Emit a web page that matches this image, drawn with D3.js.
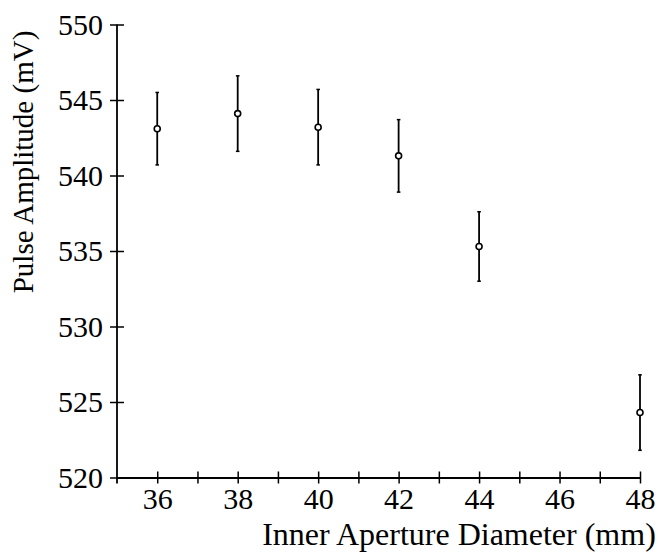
<!DOCTYPE html>
<html><head><meta charset="utf-8">
<script src="https://cdn.jsdelivr.net/npm/d3@7"></script>
<style>body{margin:0;background:#fff}svg{display:block}</style>
</head><body>
<script>
const diameters = [36, 38, 40, 42, 44, 48];
const amplitudes = [543.1, 544.1, 543.2, 541.3, 535.3, 524.3];
const errors = [2.4, 2.5, 2.5, 2.4, 2.3, 2.5];
const xTicks = [36, 37, 38, 39, 40, 41, 42, 43, 44, 45, 46, 47, 48];
const xTickLabels = [36, 38, 40, 42, 44, 46, 48];
const yTicks = [520, 525, 530, 535, 540, 545, 550];

const W = 664, H = 560;
const svg = d3.select("body").append("svg").attr("width", W).attr("height", H);
const x = d3.scaleLinear().domain([35, 48]).range([117, 640]);
const y = d3.scaleLinear().domain([520, 550]).range([477.5, 24.5]);
const font = "'Liberation Serif', 'Times New Roman', serif";

// X axis
const xa = svg.append("g").attr("transform", `translate(0,${y(520)})`)
  .call(d3.axisBottom(x).tickValues(xTicks).tickSizeInner(6).tickSizeOuter(0).tickPadding(4)
    .tickFormat(d => xTickLabels.includes(d) ? d : ""));
xa.selectAll(".tick line").attr("y1", -6).attr("stroke-width", 1.5);
xa.select(".domain").attr("stroke-width", 1.8);
xa.selectAll("text").attr("font-family", font).attr("font-size", 30).attr("fill", "#000").attr("dy", "0.72em");

// Y axis
const ya = svg.append("g").attr("transform", `translate(${x(35)},0)`)
  .call(d3.axisLeft(y).tickValues(yTicks).tickSizeInner(7).tickSizeOuter(0).tickPadding(7));
ya.selectAll(".tick line").attr("x1", -7).attr("x2", 7).attr("stroke-width", 1.5);
ya.select(".domain").attr("stroke-width", 1.8).attr("d", `M0,${y(550)}V${y(520)+6}`);
ya.selectAll("text").attr("font-family", font).attr("font-size", 30).attr("fill", "#000").attr("dy", "0.33em");

// Error bars
const pts = diameters.map((d, i) => ({d, a: amplitudes[i], e: errors[i]}));
const g = svg.append("g").attr("stroke", "#000").attr("fill", "none");
pts.forEach(p => {
  g.append("line").attr("x1", x(p.d)).attr("x2", x(p.d))
    .attr("y1", y(p.a + p.e)).attr("y2", y(p.a - p.e)).attr("stroke-width", 1.8);
  [p.a + p.e, p.a - p.e].forEach(v => g.append("line")
    .attr("x1", x(p.d) - 1.8).attr("x2", x(p.d) + 1.8)
    .attr("y1", y(v)).attr("y2", y(v)).attr("stroke-width", 1.5));
  g.append("circle").attr("cx", x(p.d)).attr("cy", y(p.a)).attr("r", 3)
    .attr("fill", "#fff").attr("stroke-width", 1.6);
});

// Titles
svg.append("text").attr("x", 459).attr("y", 545).attr("text-anchor", "middle")
  .attr("font-family", font).attr("font-size", 32).text("Inner Aperture Diameter (mm)");
svg.append("text").attr("transform", `translate(33,162) rotate(-90)`).attr("text-anchor", "middle")
  .attr("font-family", font).attr("font-size", 29).text("Pulse Amplitude (mV)");
</script>
</body></html>
